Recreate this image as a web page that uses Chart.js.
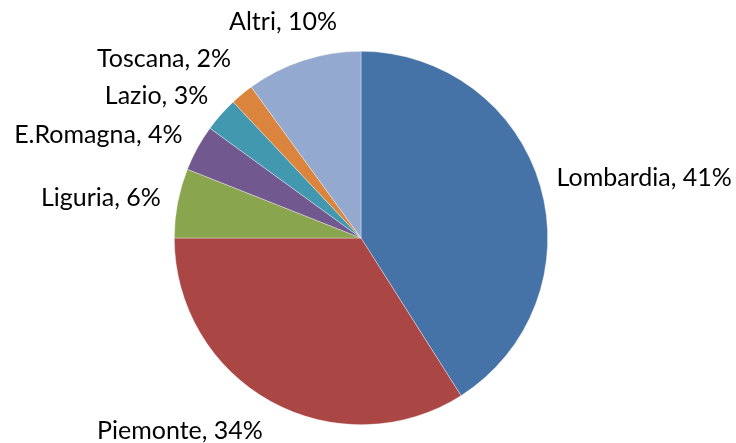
<!DOCTYPE html>
<html><head><meta charset="utf-8">
<script src="https://cdn.jsdelivr.net/npm/chart.js@4/dist/chart.umd.min.js"></script>
<style>html,body{margin:0;padding:0;background:#fff}</style>
</head><body>
<canvas id="c" width="736" height="443"></canvas>
<script>
const categories = ["Lombardia", "Piemonte", "Liguria", "E.Romagna", "Lazio", "Toscana", "Altri"];
const values = [41, 34, 6, 4, 3, 2, 10];
const colors = ["#4572A7", "#AA4643", "#89A54E", "#71588F", "#4198AF", "#DB843D", "#93A9CF"];

const FONT = '25px Lato, Carlito, "Liberation Sans", sans-serif';
const LINE_GAP = 37;

const labelPlugin = {
  id: 'pieLabels',
  afterDraw(chart) {
    const ctx = chart.ctx;
    const meta = chart.getDatasetMeta(0);
    const total = values.reduce((a, b) => a + b, 0);
    ctx.save();
    ctx.font = FONT;
    ctx.fillStyle = '#000';
    ctx.textBaseline = 'middle';
    const items = meta.data.map((arc, i) => {
      const p = arc.getProps(['x', 'y', 'startAngle', 'endAngle', 'outerRadius'], true);
      const a = (p.startAngle + p.endAngle) / 2;
      const d = p.outerRadius + 17;
      const px = p.x + Math.cos(a) * d;
      const py = p.y + Math.sin(a) * d;
      const text = categories[i] + ', ' + Math.round(values[i] / total * 100) + '%';
      const h = 22;
      return { text, a, px, py, cy: py + Math.sin(a) * h / 2 * (Math.abs(Math.sin(a)) > 0.8 ? 1.5 : 1), cos: Math.cos(a) };
    });
    // overlap avoidance on the left side, bottom to top
    const left = items.filter(it => it.cos < 0 && Math.sin(it.a) < 0.8).sort((a, b) => b.cy - a.cy);
    for (let k = 1; k < left.length; k++) {
      if (left[k - 1].cy - left[k].cy < LINE_GAP) left[k].cy = left[k - 1].cy - LINE_GAP;
    }
    items.forEach(it => {
      if (Math.abs(it.cos) < 0.35) { ctx.textAlign = 'center'; }
      else ctx.textAlign = it.cos > 0 ? 'left' : 'right';
      ctx.fillText(it.text, it.px - (Math.abs(it.cos) < 0.35 ? 15 : 0), it.cy);
    });
    ctx.restore();
  }
};

new Chart(document.getElementById('c'), {
  type: 'pie',
  data: {
    labels: categories,
    datasets: [{ data: values, backgroundColor: colors, borderWidth: 0.6, borderColor: 'rgba(255,255,255,0.6)' }]
  },
  options: {
    responsive: false,
    animation: false,
    layout: { padding: { top: 51, bottom: 18, left: 100, right: 114 } },
    plugins: { legend: { display: false }, tooltip: { enabled: false } }
  },
  plugins: [labelPlugin]
});
</script>
</body></html>
